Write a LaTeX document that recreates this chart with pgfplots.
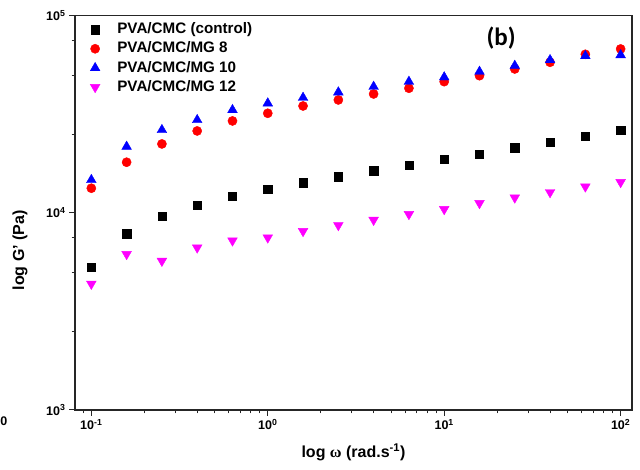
\documentclass[border=0pt]{standalone}
\usepackage{pgfplots}
\pgfplotsset{compat=1.18}
\usepackage{fontspec}
\setmainfont{Liberation Sans}
\newfontfamily\serifgreek{Liberation Serif}
\newfontfamily\calib{Carlito}
\definecolor{mag}{RGB}{255,0,255}
\definecolor{rd}{RGB}{255,0,0}
\definecolor{bl}{RGB}{0,0,255}

\begin{document}
\begin{tikzpicture}
\path[use as bounding box] (-75pt,-60pt) rectangle (565pt,410pt);
\begin{axis}[
  at={(0pt,0pt)}, anchor=south west,
  scale only axis, width=557pt, height=394.3pt,
  xmode=log, ymode=log,
  xmin=0.0808, xmax=116, ymin=1000, ymax=100000,
  clip=false,
  axis line style={line width=1.2pt, black!85},
  tick align=outside,
  xtick pos=lower, ytick pos=left,
  major tick length=6pt, minor tick length=3.5pt,
  tick style={line width=1pt, black!85},
  xtick={0.1,1,10,100},
  xticklabels={10\textsuperscript{-1},10\textsuperscript{0},10\textsuperscript{1},10\textsuperscript{2}},
  minor xtick={0.09,0.2,0.3,0.4,0.5,0.6,0.7,0.8,0.9,2,3,4,5,6,7,8,9,20,30,40,50,60,70,80,90},
  ytick={1000,10000,100000},
  yticklabels={10\textsuperscript{3},10\textsuperscript{4},10\textsuperscript{5}},
  minor ytick={2500,5000,7500,25000,50000,75000},
  ticklabel style={font=\bfseries\fontsize{12.5}{14}\selectfont},
  xlabel={log {\serifgreek ω} (rad.s\textsuperscript{-1})},
  ylabel={log G' (Pa)},
  label style={font=\bfseries\fontsize{16}{18}\selectfont},
  xlabel style={at={(axis description cs:0.5,-0.1065)}, anchor=center},
  ylabel style={at={(axis description cs:-0.0987,0.405)}, anchor=center},
  legend image code/.code={\path (-6pt,0pt) (21pt,0pt); \draw[#1] plot coordinates {(0pt,0pt)};},
  legend style={at={(axis description cs:0.0193,0.99)}, anchor=north west,
    draw=none, fill=none, font=\bfseries\fontsize{15.2}{17}\selectfont,
    row sep=3.7pt, nodes={text height=10.8pt, text depth=2.7pt, inner sep=1pt}},
  legend cell align=left,
]
\addplot[only marks, mark=square*, mark size=4.2pt, black] coordinates {
(0.1,5300) (0.1585,7820) (0.2512,9640) (0.3981,10960) (0.631,12180) (1,13220) (1.585,14230) (2.512,15260)
(3.981,16370) (6.31,17500) (10,18700) (15.85,19900) (25.12,21400) (39.81,22800) (63.1,24500) (100,26300)};
\addlegendentry{PVA/CMC (control)}
\addplot[only marks, mark=*, mark size=4.6pt, rd] coordinates {
(0.1,13330) (0.1585,18060) (0.2512,22360) (0.3981,26020) (0.631,29250) (1,31990) (1.585,34840) (2.512,37380)
(3.981,40080) (6.31,42850) (10,46280) (15.85,49620) (25.12,53670) (39.81,58030) (63.1,63700) (100,67800)};
\addlegendentry{PVA/CMC/MG 8}
\addplot[only marks, mark=triangle*, mark size=5.6pt, bl] coordinates {
(0.1,14690) (0.1585,21670) (0.2512,26330) (0.3981,29590) (0.631,33250) (1,35950) (1.585,38380) (2.512,40890)
(3.981,43650) (6.31,46280) (10,48730) (15.85,52000) (25.12,55740) (39.81,59610) (63.1,62470) (100,63170)};
\addlegendentry{PVA/CMC/MG 10}
\addplot[only marks, mark=triangle*, mark options={rotate=180}, mark size=5.6pt, mag] coordinates {
(0.1,4360) (0.1585,6170) (0.2512,5700) (0.3981,6660) (0.631,7230) (1,7490) (1.585,8070) (2.512,8650)
(3.981,9200) (6.31,9840) (10,10430) (15.85,11190) (25.12,11940) (39.81,12710) (63.1,13580) (100,14300)};
\addlegendentry{PVA/CMC/MG 12}
\node[font=\calib\bfseries\fontsize{25}{30}\selectfont] at (axis description cs:0.765,0.943) {(b)};
\node[font=\bfseries\fontsize{12.5}{14}\selectfont] at (axis description cs:-0.1275,-0.028) {0};
\end{axis}
\end{tikzpicture}
\end{document}
